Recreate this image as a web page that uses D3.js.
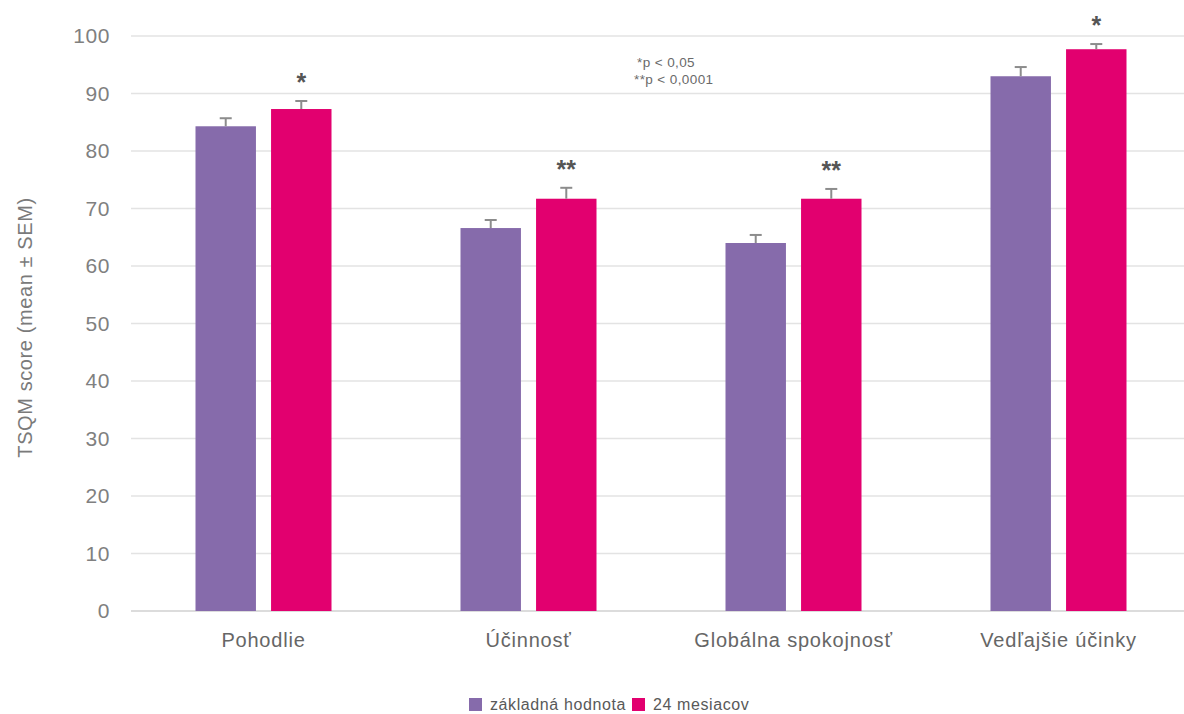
<!DOCTYPE html>
<html lang="en">
<head>
    <meta charset="utf-8">
    <title>TSQM score</title>
    <style>
        body { margin: 0; background: #fff; }
        text { font-family: "Liberation Sans", Arial, sans-serif; }
    </style>
</head>
<body>
    <svg id="chart" width="1184" height="714"></svg>

    <script src="https://d3js.org/d3.v7.min.js"></script>
    <script>
        const categories = ["Pohodlie", "Účinnosť", "Globálna spokojnosť", "Vedľajšie účinky"]
        const series = ["základná hodnota", "24 mesiacov"]
        const baseline = [84.3, 66.6, 64.0, 93.0]
        const baselineSem = [1.4, 1.4, 1.4, 1.6]
        const month24 = [87.3, 71.7, 71.7, 97.7]
        const month24Sem = [1.4, 1.9, 1.7, 0.9]
        const stars = ["*", "**", "**", "*"]
        const yTicks = [0, 10, 20, 30, 40, 50, 60, 70, 80, 90, 100]
        const colors = ["#866bab", "#e2006f"]

        const svg = d3.select("#chart")

        const x = d3.scaleBand().domain(categories).range([131, 1191]).paddingInner(0).paddingOuter(0)
        const y = d3.scaleLinear().domain([0, 100]).range([611, 36])

        // gridlines
        svg.append("g").selectAll("line").data(yTicks).join("line")
            .attr("x1", 131).attr("x2", 1184)
            .attr("y1", d => y(d)).attr("y2", d => y(d))
            .attr("stroke", d => d === 0 ? "#d0d0d0" : "#e3e3e3")
            .attr("stroke-width", 1.3)

        // y tick labels
        svg.append("g").selectAll("text").data(yTicks).join("text")
            .attr("x", 110).attr("y", d => y(d) + 7)
            .attr("text-anchor", "end")
            .attr("font-size", 21).attr("letter-spacing", 0.6).attr("fill", "#808080")
            .text(d => d)

        svg.append("text")
            .attr("transform", `translate(32, ${y(50) + 4}) rotate(-90)`)
            .attr("text-anchor", "middle")
            .attr("font-size", 20).attr("letter-spacing", 0.6).attr("fill", "#7a7a7a")
            .text("TSQM score (mean ± SEM)")

        const rows = categories.map((c, i) => ({
            cat: c,
            vals: [
                { k: 0, v: baseline[i], e: baselineSem[i] },
                { k: 1, v: month24[i], e: month24Sem[i] }
            ],
            star: stars[i]
        }))

        const x1 = d3.scaleBand().domain([0, 1]).range([-68, 68]).paddingInner(0.2)

        const groups = svg.append("g").selectAll("g").data(rows).join("g")
            .attr("transform", d => `translate(${x(d.cat) + x.bandwidth() / 2},0)`)

        groups.selectAll("rect").data(d => d.vals).join("rect")
            .attr("x", d => x1(d.k)).attr("width", x1.bandwidth())
            .attr("y", d => y(d.v)).attr("height", d => y(0) - y(d.v))
            .attr("fill", d => colors[d.k])

        // error bars
        const eb = groups.selectAll("g.err").data(d => d.vals).join("g").attr("class", "err")
        eb.append("line")
            .attr("x1", d => x1(d.k) + x1.bandwidth() / 2).attr("x2", d => x1(d.k) + x1.bandwidth() / 2)
            .attr("y1", d => y(d.v)).attr("y2", d => y(d.v + d.e))
            .attr("stroke", "#8c8c8c").attr("stroke-width", 2)
        eb.append("line")
            .attr("x1", d => x1(d.k) + x1.bandwidth() / 2 - 6).attr("x2", d => x1(d.k) + x1.bandwidth() / 2 + 6)
            .attr("y1", d => y(d.v + d.e)).attr("y2", d => y(d.v + d.e))
            .attr("stroke", "#8c8c8c").attr("stroke-width", 2)

        // significance stars
        groups.append("text")
            .attr("x", x1(1) + x1.bandwidth() / 2)
            .attr("y", d => y(d.vals[1].v + d.vals[1].e) - 10)
            .attr("text-anchor", "middle")
            .attr("font-size", 25).attr("font-weight", "bold").attr("fill", "#555")
            .text(d => d.star)

        // category labels
        svg.append("g").selectAll("text").data(categories).join("text")
            .attr("x", d => x(d) + x.bandwidth() / 2).attr("y", 647)
            .attr("text-anchor", "middle")
            .attr("font-size", 20).attr("letter-spacing", 0.8).attr("fill", "#666")
            .text(d => d)

        // p-value note
        svg.append("text").attr("x", 637).attr("y", 67)
            .attr("font-size", 13.5).attr("letter-spacing", 0.4).attr("fill", "#6a6a6a").text("*p < 0,05")
        svg.append("text").attr("x", 634).attr("y", 84)
            .attr("font-size", 13.5).attr("letter-spacing", 0.4).attr("fill", "#6a6a6a").text("**p < 0,0001")

        // legend
        const legend = svg.append("g").attr("transform", "translate(469,698)")
        const lx = [0, 163]
        series.forEach((s, i) => {
            legend.append("rect").attr("x", lx[i]).attr("y", 0).attr("width", 13).attr("height", 13)
                .attr("fill", colors[i])
            legend.append("text").attr("x", lx[i] + 21).attr("y", 12)
                .attr("font-size", 16).attr("letter-spacing", 0.6).attr("fill", "#595959").text(s)
        })
    </script>
</body>
</html>
